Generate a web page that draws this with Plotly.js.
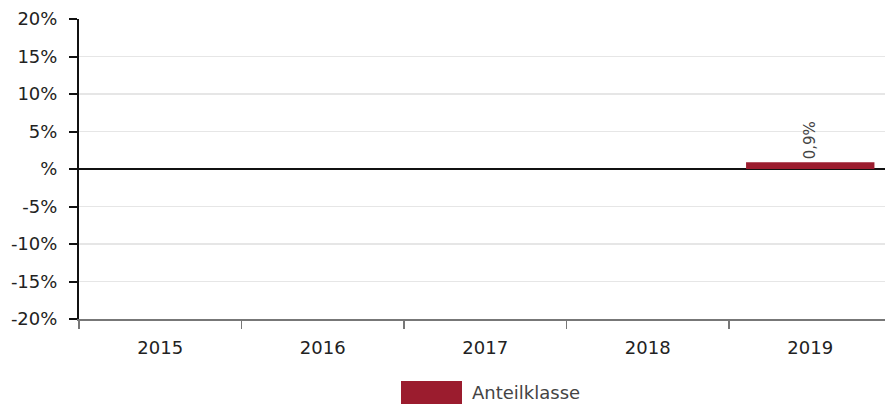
<!DOCTYPE html>
<html>
<head>
<meta charset="utf-8">
<script src="https://cdn.plot.ly/plotly-3.0.1.min.js"></script>
<style>html,body{margin:0;padding:0;background:#fff;}#chart{width:885px;height:408px;}</style>
</head>
<body>
<div id="chart"></div>
<script>
const years = ["2015", "2016", "2017", "2018", "2019"];
const values = [null, null, null, null, 0.9];
const seriesName = "Anteilklasse";
const yTickVals = [-20, -15, -10, -5, 0, 5, 10, 15, 20];
const yTickText = ["-20%", "-15%", "-10%", "-5%", "%", "5%", "10%", "15%", "20%"];

const barColor = "#9b1c2e";
const fontFam = "DejaVu Sans, sans-serif";

const trace = {
  type: "bar",
  x: years,
  y: values,
  name: seriesName,
  marker: {color: barColor},
  width: 0.79,
  texttemplate: "%{y:.1f}%",
  textposition: "outside",
  textangle: -90,
  cliponaxis: false,
  textfont: {family: fontFam, size: 15, color: "#444"},
  showlegend: false,
  hoverinfo: "skip"
};

const layout = {
  width: 885, height: 408,
  margin: {l: 79, r: 0, t: 19, b: 89},
  paper_bgcolor: "#fff", plot_bgcolor: "#fff",
  separators: ",.",
  font: {family: fontFam, size: 18, color: "#222"},
  showlegend: false,
  xaxis: {
    type: "category",
    range: [-0.5, 4.46],
    tickson: "boundaries",
    ticks: "outside", ticklen: 8, tickcolor: "#777", tickwidth: 1.5,
    showline: true, linecolor: "#777", linewidth: 2,
    showgrid: false, zeroline: false,
    tickfont: {family: fontFam, size: 18, color: "#222"},
    ticklabelstandoff: 11
  },
  yaxis: {
    range: [-20, 20],
    tickvals: yTickVals, ticktext: yTickText,
    ticks: "outside", ticklen: 8, tickcolor: "#111", tickwidth: 2,
    showline: true, linecolor: "#111", linewidth: 2,
    showgrid: true, gridcolor: "#e6e6e6", gridwidth: 1.5,
    zeroline: true, zerolinecolor: "#111", zerolinewidth: 1.5,
    tickfont: {family: fontFam, size: 18, color: "#222"},
    ticklabelstandoff: 8
  },
  shapes: [{
    type: "rect", xref: "paper", yref: "paper",
    x0: (401 - 79) / 806, x1: (462 - 79) / 806,
    y0: -(404 - 319) / 300, y1: -(381 - 319) / 300,
    fillcolor: barColor, line: {width: 0}
  }],
  annotations: [{
    xref: "paper", yref: "paper",
    x: (470 - 79) / 806, y: -(392 - 319) / 300,
    xanchor: "left", yanchor: "middle",
    text: seriesName, showarrow: false,
    font: {family: fontFam, size: 18, color: "#444"}
  }]
};

Plotly.newPlot("chart", [trace], layout, {displayModeBar: false, staticPlot: true});
</script>
</body>
</html>
